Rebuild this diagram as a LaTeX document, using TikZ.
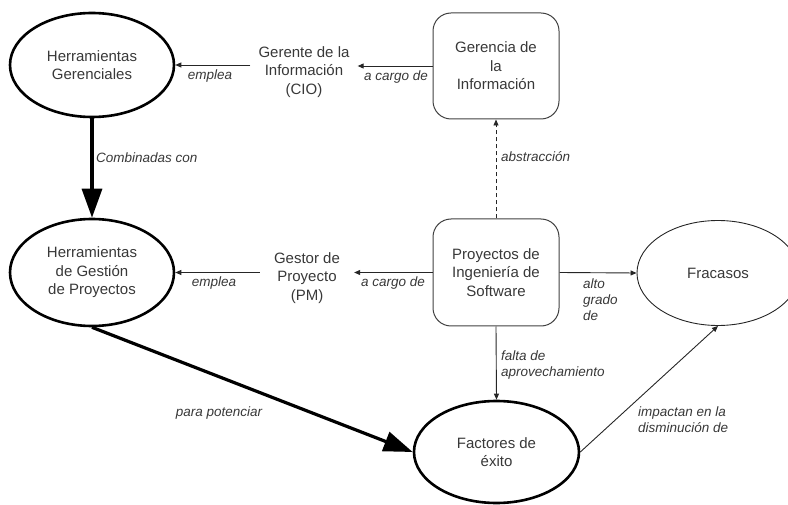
\documentclass[tikz,border=0pt]{standalone}
\usepackage{fontspec}
\setmainfont{Liberation Sans}
\usetikzlibrary{shapes.geometric,arrows.meta}
\definecolor{txt}{HTML}{383838}
\begin{document}
\begin{tikzpicture}[x=1pt,y=-1pt,
 main/.style={font=\fontsize{15}{18.5}\selectfont, text=txt, align=center},
 lbl/.style={font=\fontsize{13.5}{16}\selectfont\itshape, text=txt, align=left, inner sep=0pt},
 thickell/.style={main, ellipse, draw=black, line width=2.6pt, inner sep=0pt},
 thinell/.style={main, ellipse, draw=black!85, line width=0.9pt, inner sep=0pt},
 rbox/.style={main, draw=black!75, line width=1pt, rounded corners=18pt, inner sep=0pt},
 thinarrow/.style={draw=black!85, line width=0.9pt, -{Triangle[length=6pt,width=5pt]}},
 heavyarrow/.style={draw=black, line width=3.2pt, -{Triangle[length=29pt,width=20pt]}}
]
\useasboundingbox (0,0) rectangle (788,505);
\clip (0,0) rectangle (788,505);

\node[thickell, minimum width=164pt, minimum height=104pt] (hg) at (92,65) {Herramientas\\Gerenciales};
\node[thickell, minimum width=164pt, minimum height=107pt] (hgp) at (92,272.5) {Herramientas\\de Gestión\\de Proyectos};
\node[thickell, minimum width=165pt, minimum height=102pt] (factores) at (496.5,452) {Factores de\\éxito};
\node[thinell, minimum width=162pt, minimum height=105pt] (fracasos) at (718,273) {Fracasos};
\node[rbox, minimum width=126pt, minimum height=106pt] (gerencia) at (496,66) {Gerencia de\\la\\Información};
\node[rbox, minimum width=126pt, minimum height=107pt] (proyectos) at (496,272.5) {Proyectos de\\Ingeniería de\\Software};
\node[main, inner xsep=8pt] (gerente) at (304,72) {Gerente de la\\Información\\(CIO)};
\node[main, inner xsep=14pt] (gestor) at (307,278) {Gestor de\\Proyecto\\(PM)};

\draw[thinarrow] (gerencia.west) -- (gerencia.west -| gerente.east);
\draw[thinarrow] (gerente.west |- hg.east) -- (hg.east);
\draw[thinarrow, dash pattern=on 4pt off 3pt] (proyectos.north) -- (gerencia.south);
\draw[thinarrow] (proyectos.west) -- (proyectos.west -| gestor.east);
\draw[thinarrow] (gestor.west |- hgp.east) -- (hgp.east);
\draw[thinarrow] (proyectos.east) -- (fracasos.west);
\draw[thinarrow] (proyectos.south) -- (factores.north);
\draw[thinarrow] (factores.east) -- (fracasos.south);
\draw[heavyarrow] (hg.south) -- (hgp.north);
\draw[heavyarrow] (hgp.south) -- (factores.west);

\node[lbl] (l1) at (210,76) {emplea};
\node[lbl] (l2) at (396,77) {a cargo de};
\node[lbl, anchor=west] (l3) at (96,158) {Combinadas con};
\node[lbl, anchor=west] (l4) at (501,157) {abstracción};
\node[lbl] (l5) at (214,283) {emplea};
\node[lbl] (l6) at (393,283) {a cargo de};
\node[lbl, anchor=west] (l7) at (583,300) {alto\\grado\\de};
\node[lbl, anchor=west] (l8) at (501,365) {falta de\\aprovechamiento};
\node[lbl, anchor=west] (l9) at (638,420) {impactan en la\\disminución de};
\node[lbl] (l10) at (219,413) {para potenciar};
\end{tikzpicture}
\end{document}
